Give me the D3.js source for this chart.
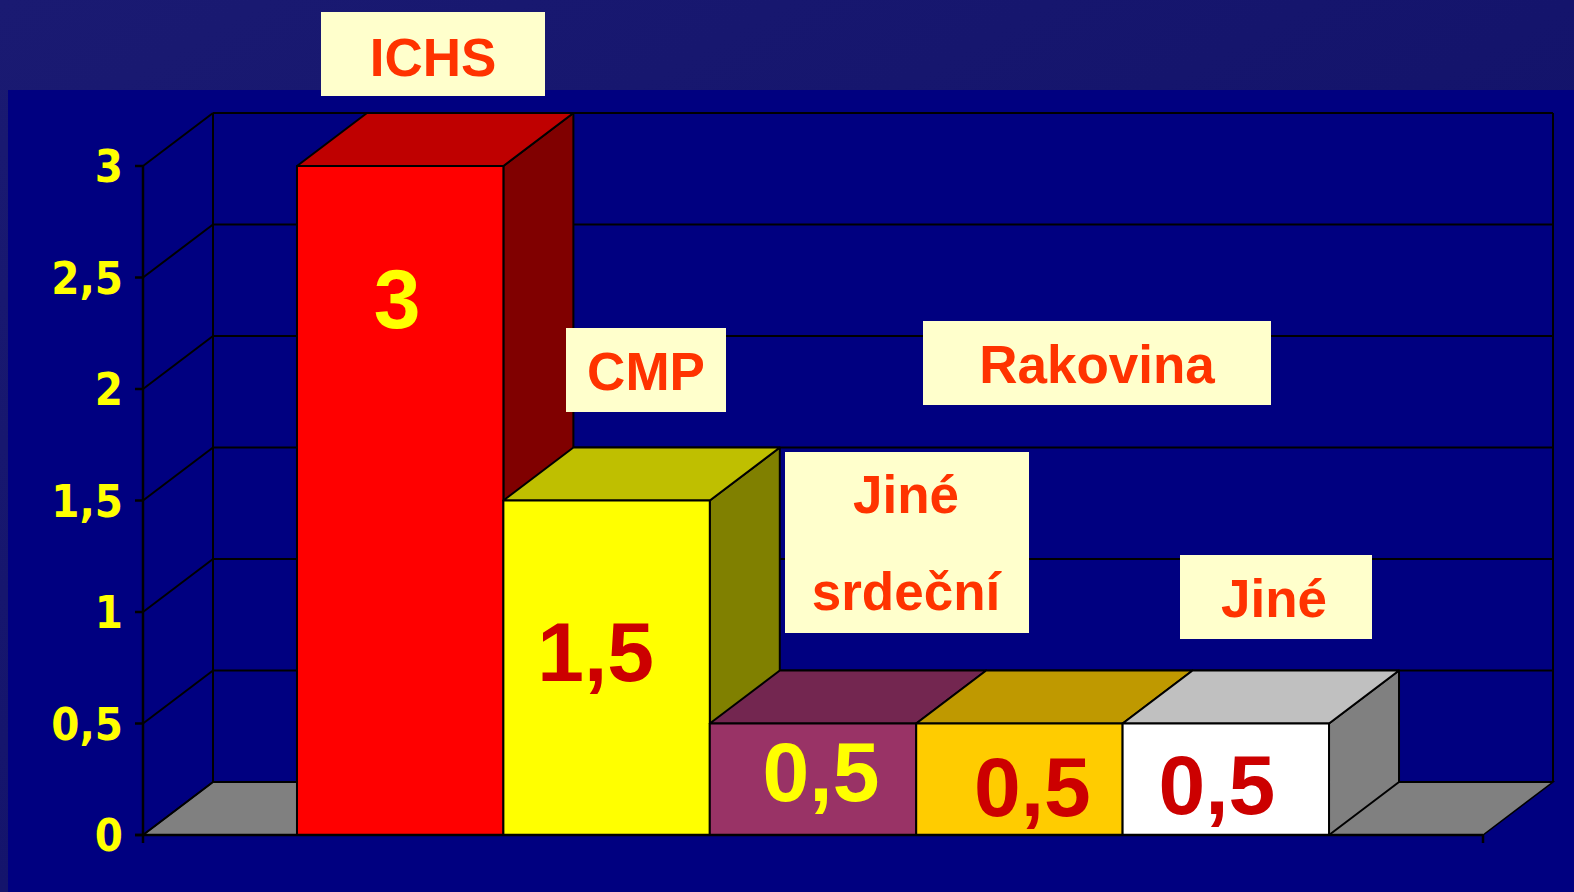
<!DOCTYPE html>
<html>
<head>
<meta charset="utf-8">
<script src="https://cdn.jsdelivr.net/npm/d3@7"></script>
<style>
  html, body { margin: 0; padding: 0; background: #000080; overflow: hidden; }
</style>
</head>
<body>
<script>
// data
var series = ["ICHS", "CMP", "Jiné srdeční", "Rakovina", "Jiné"];
var values = [3, 1.5, 0.5, 0.5, 0.5];
var yTicks = [0, 0.5, 1, 1.5, 2, 2.5, 3];

// colours per series: front, top, side, value label
var fronts = ["#ff0000", "#ffff00", "#993366", "#ffcc00", "#ffffff"];
var tops = ["#bf0000", "#bfbf00", "#732650", "#bf9900", "#c0c0c0"];
var sides = ["#800000", "#808000", "#4d1a33", "#806600", "#808080"];
var valueColors = ["#ffff00", "#cc0000", "#ffff00", "#cc0000", "#cc0000"];

var width = 1574, height = 892;
var dx = 70, dy = 53;   // depth of the 3d look

var cz = d3.formatLocale({decimal: ",", thousands: " ", grouping: [3], currency: ["", " Kč"]});
var fmt = cz.format("~g");

var svg = d3.select("body")
            .append("svg")
            .attr("width", width)
            .attr("height", height);

var defs = svg.append("defs");
var grad = defs.append("linearGradient").attr("id", "topband")
    .attr("x1", "0%").attr("y1", "0%").attr("x2", "100%").attr("y2", "100%");
grad.append("stop").attr("offset", "0%").attr("stop-color", "#1a1a72");
grad.append("stop").attr("offset", "100%").attr("stop-color", "#0e0e66");

// slide background
svg.append("rect").attr("width", width).attr("height", height).attr("fill", "url(#topband)");
svg.append("rect").attr("x", 8).attr("y", 90).attr("width", width - 8).attr("height", height - 90)
   .attr("fill", "#000080");

var y = d3.scaleLinear().domain([0, 3]).range([835, 166]);
var x = d3.scaleBand().domain(series).range([143, 1483]).paddingInner(0).paddingOuter(0.746);

var x0 = x.range()[0], x1 = x.range()[1];
var yb = y(0);

// floor
svg.append("path")
   .attr("d", "M" + x0 + "," + yb + "L" + x1 + "," + yb + "L" + (x1 + dx) + "," + (yb - dy) +
              "L" + (x0 + dx) + "," + (yb - dy) + "Z")
   .attr("fill", "#808080")
   .attr("stroke", "#000")
   .attr("stroke-width", 1.5);

// back wall grid lines and side wall lines
var grid = svg.append("g").attr("stroke", "#000").attr("stroke-width", 2).attr("fill", "none");
grid.selectAll("line.back")
   .data(yTicks)
   .enter()
   .append("line")
   .attr("x1", x0 + dx).attr("x2", x1 + dx)
   .attr("y1", function(d) { return y(d) - dy; })
   .attr("y2", function(d) { return y(d) - dy; });
grid.selectAll("line.side")
   .data(yTicks)
   .enter()
   .append("line")
   .attr("x1", x0).attr("x2", x0 + dx)
   .attr("y1", function(d) { return y(d); })
   .attr("y2", function(d) { return y(d) - dy; });
grid.append("line").attr("x1", x0 + dx).attr("x2", x0 + dx).attr("y1", y(3) - dy).attr("y2", yb - dy);
grid.append("line").attr("x1", x1 + dx).attr("x2", x1 + dx).attr("y1", y(3) - dy).attr("y2", yb - dy);

// bars, left to right so each one covers the side of the one before
var bars = svg.selectAll("g.bar")
   .data(values)
   .enter()
   .append("g")
   .attr("class", "bar")
   .attr("stroke", "#000")
   .attr("stroke-width", 2)
   .attr("stroke-linejoin", "round");

bars.append("path")
   .attr("fill", function(d, i) { return sides[i]; })
   .attr("d", function(d, i) {
        var r = x(series[i]) + x.bandwidth(), t = y(d);
        return "M" + r + "," + t + "L" + (r + dx) + "," + (t - dy) + "L" + (r + dx) + "," + (yb - dy) +
               "L" + r + "," + yb + "Z";
   });
bars.append("path")
   .attr("fill", function(d, i) { return tops[i]; })
   .attr("d", function(d, i) {
        var l = x(series[i]), r = l + x.bandwidth(), t = y(d);
        return "M" + l + "," + t + "L" + r + "," + t + "L" + (r + dx) + "," + (t - dy) +
               "L" + (l + dx) + "," + (t - dy) + "Z";
   });
bars.append("rect")
   .attr("fill", function(d, i) { return fronts[i]; })
   .attr("x", function(d, i) { return x(series[i]); })
   .attr("y", function(d) { return y(d); })
   .attr("width", x.bandwidth())
   .attr("height", function(d) { return yb - y(d); });

// front axis line, floor front edge, ticks
var axis = svg.append("g").attr("stroke", "#000").attr("stroke-width", 2.5);
axis.append("line").attr("x1", x0).attr("x2", x0).attr("y1", y(3)).attr("y2", yb + 8);
axis.append("line").attr("x1", x0 - 8).attr("x2", x1).attr("y1", yb).attr("y2", yb);
axis.append("line").attr("x1", x1).attr("x2", x1).attr("y1", yb).attr("y2", yb + 8);
axis.selectAll("line.tick")
   .data(yTicks)
   .enter()
   .append("line")
   .attr("x1", x0 - 8).attr("x2", x0)
   .attr("y1", function(d) { return y(d); })
   .attr("y2", function(d) { return y(d); });

svg.selectAll("text.ylab")
   .data(yTicks)
   .enter()
   .append("text")
   .attr("class", "ylab")
   .text(function(d) { return fmt(d); })
   .attr("x", 123)
   .attr("y", function(d) { return y(d); })
   .attr("dy", "0.36em")
   .attr("text-anchor", "end")
   .attr("font-family", "DejaVu Sans, sans-serif")
   .attr("font-stretch", "condensed")
   .attr("font-weight", "bold")
   .attr("font-size", "45px")
   .attr("fill", "#ffff00");

// value labels inside the bars
var valueOffsets = [[-3, 162], [-11, 180], [8, 77], [13, 92], [-9, 90]];
svg.selectAll("text.val")
   .data(values)
   .enter()
   .append("text")
   .attr("class", "val")
   .text(function(d) { return fmt(d); })
   .attr("x", function(d, i) { return x(series[i]) + x.bandwidth() / 2 + valueOffsets[i][0]; })
   .attr("y", function(d, i) { return y(d) + valueOffsets[i][1]; })
   .attr("text-anchor", "middle")
   .attr("font-family", "Liberation Sans, Arial, sans-serif")
   .attr("font-weight", "bold")
   .attr("font-size", "84px")
   .attr("fill", function(d, i) { return valueColors[i]; });

// name boxes (placed by hand like on the slide)
var boxes = [
  {x: 321, y: 12, w: 224, h: 84, lines: [76]},
  {x: 566, y: 328, w: 160, h: 84, lines: [390]},
  {x: 785, y: 452, w: 244, h: 181, lines: [513, 610]},
  {x: 923, y: 321, w: 348, h: 84, lines: [383]},
  {x: 1180, y: 555, w: 192, h: 84, lines: [617]}
];
var boxText = [["ICHS"], ["CMP"], ["Jiné", "srdeční"], ["Rakovina"], ["Jiné"]];
var textCx = [433, 646, 906, 1097, 1274];

var lab = svg.selectAll("g.lab")
   .data(boxes)
   .enter()
   .append("g")
   .attr("class", "lab");
lab.append("rect")
   .attr("x", function(d) { return d.x; })
   .attr("y", function(d) { return d.y; })
   .attr("width", function(d) { return d.w; })
   .attr("height", function(d) { return d.h; })
   .attr("fill", "#ffffcc");
lab.each(function(d, i) {
    d3.select(this).selectAll("text")
      .data(boxText[i])
      .enter()
      .append("text")
      .text(function(t) { return t; })
      .attr("x", textCx[i])
      .attr("y", function(t, j) { return d.lines[j]; })
      .attr("text-anchor", "middle")
      .attr("font-family", "Liberation Sans, Arial, sans-serif")
      .attr("font-weight", "bold")
      .attr("font-size", "53px")
      .attr("fill", "#ff3300");
});
</script>
</body>
</html>
